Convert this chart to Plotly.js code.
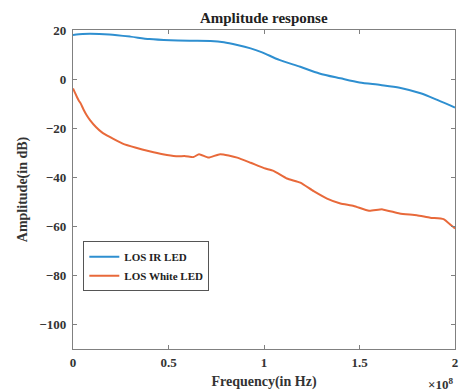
<!DOCTYPE html>
<html>
<head>
<meta charset="utf-8">
<script src="https://cdn.plot.ly/plotly-3.0.1.min.js"></script>
<style>
  html, body { margin: 0; padding: 0; background: #fff; }
  #chart { width: 466px; height: 392px; }
</style>
</head>
<body>
<div id="chart"></div>
<script>
// Frequency axis values are in units of 1e8 Hz
const irFreq = [0, 0.05, 0.09, 0.19, 0.30, 0.40, 0.51, 0.61, 0.72, 0.79, 0.86, 0.93, 0.99, 1.08, 1.19, 1.29, 1.40, 1.50, 1.61, 1.71, 1.82, 1.91, 2.0];
const irAmp  = [18.0, 18.4, 18.5, 18.2, 17.3, 16.3, 15.8, 15.6, 15.5, 15.0, 13.9, 12.5, 10.9, 7.8, 5.0, 2.3, 0.3, -1.4, -2.4, -3.5, -5.8, -8.6, -11.6];

const whiteFreq = [0, 0.01, 0.02, 0.03, 0.04, 0.055, 0.07, 0.09, 0.12, 0.15, 0.19, 0.26, 0.33, 0.40, 0.47, 0.54, 0.59, 0.63, 0.66, 0.71, 0.77, 0.86, 0.93, 1.00, 1.05, 1.12, 1.19, 1.26, 1.33, 1.40, 1.47, 1.55, 1.62, 1.71, 1.80, 1.87, 1.94, 1.98, 2.0];
const whiteAmp  = [-3.8, -5.5, -7.2, -8.7, -9.9, -12.4, -14.5, -16.8, -19.5, -21.6, -23.5, -26.3, -28.0, -29.4, -30.6, -31.4, -31.4, -31.8, -30.6, -32.0, -30.6, -32.0, -34.1, -36.3, -37.4, -40.5, -42.2, -45.7, -48.7, -50.7, -51.7, -53.7, -53.1, -54.8, -55.5, -56.5, -57.1, -59.6, -60.9];

const seriesNames = ['LOS IR LED', 'LOS White LED'];
const xTicks = [0, 0.5, 1, 1.5, 2];
const xTickText = ['0', '0.5', '1', '1.5', '2'];
const yTicks = [-100, -80, -60, -40, -20, 0, 20];

const serif = 'Liberation Serif, Times New Roman, serif';
const axisColor = '#808080';

const traces = [
  {
    x: irFreq, y: irAmp, name: seriesNames[0], type: 'scatter', mode: 'lines',
    line: { color: '#2e8fd0', width: 2, shape: 'spline', smoothing: 0.8 }
  },
  {
    x: whiteFreq, y: whiteAmp, name: seriesNames[1], type: 'scatter', mode: 'lines',
    line: { color: '#e8693a', width: 2, shape: 'spline', smoothing: 0.5 }
  }
];

const layout = {
  width: 466, height: 392,
  margin: { l: 73, r: 11, t: 30, b: 43 },
  paper_bgcolor: '#fff', plot_bgcolor: '#fff',
  showlegend: true,
  title: {
    text: '<b>Amplitude response</b>',
    font: { family: serif, size: 15, color: '#222' },
    x: 0.566, xanchor: 'center', y: 0.955, yanchor: 'middle'
  },
  xaxis: {
    range: [0, 2], tickvals: xTicks, ticktext: xTickText,
    showgrid: false, zeroline: false, showline: true, mirror: 'ticks',
    linecolor: axisColor, linewidth: 1.2,
    ticks: 'inside', ticklen: 4, tickcolor: axisColor,
    ticklabelstandoff: 1,
    tickfont: { family: serif, size: 13, color: '#333', weight: 'bold' },
    title: { text: '<b>Frequency(in Hz)</b>', font: { family: serif, size: 14, color: '#333' }, standoff: 7 }
  },
  yaxis: {
    range: [-110, 20], tickvals: yTicks,
    showgrid: false, zeroline: false, showline: true, mirror: 'ticks',
    linecolor: axisColor, linewidth: 1.2,
    ticks: 'inside', ticklen: 4, tickcolor: axisColor,
    ticklabelstandoff: 3,
    tickfont: { family: serif, size: 13, color: '#333', weight: 'bold' },
    title: { text: '<b>Amplitude(in dB)</b>', font: { family: serif, size: 14, color: '#333' }, standoff: 8 }
  },
  legend: {
    x: 0.027, y: 0.338, xanchor: 'left', yanchor: 'top',
    bgcolor: '#fff', bordercolor: '#555', borderwidth: 1,
    font: { family: serif, size: 11, color: '#222', weight: 'bold' },
    tracegroupgap: 0, itemwidth: 30
  },
  annotations: [
    {
      text: '<b>×10<sup>8</sup></b>', xref: 'paper', yref: 'paper',
      x: 1.0, y: -0.11, xanchor: 'right', yanchor: 'middle', showarrow: false,
      font: { family: serif, size: 13, color: '#333' }
    }
  ]
};

Plotly.newPlot('chart', traces, layout, { displayModeBar: false, staticPlot: true });
</script>
</body>
</html>
